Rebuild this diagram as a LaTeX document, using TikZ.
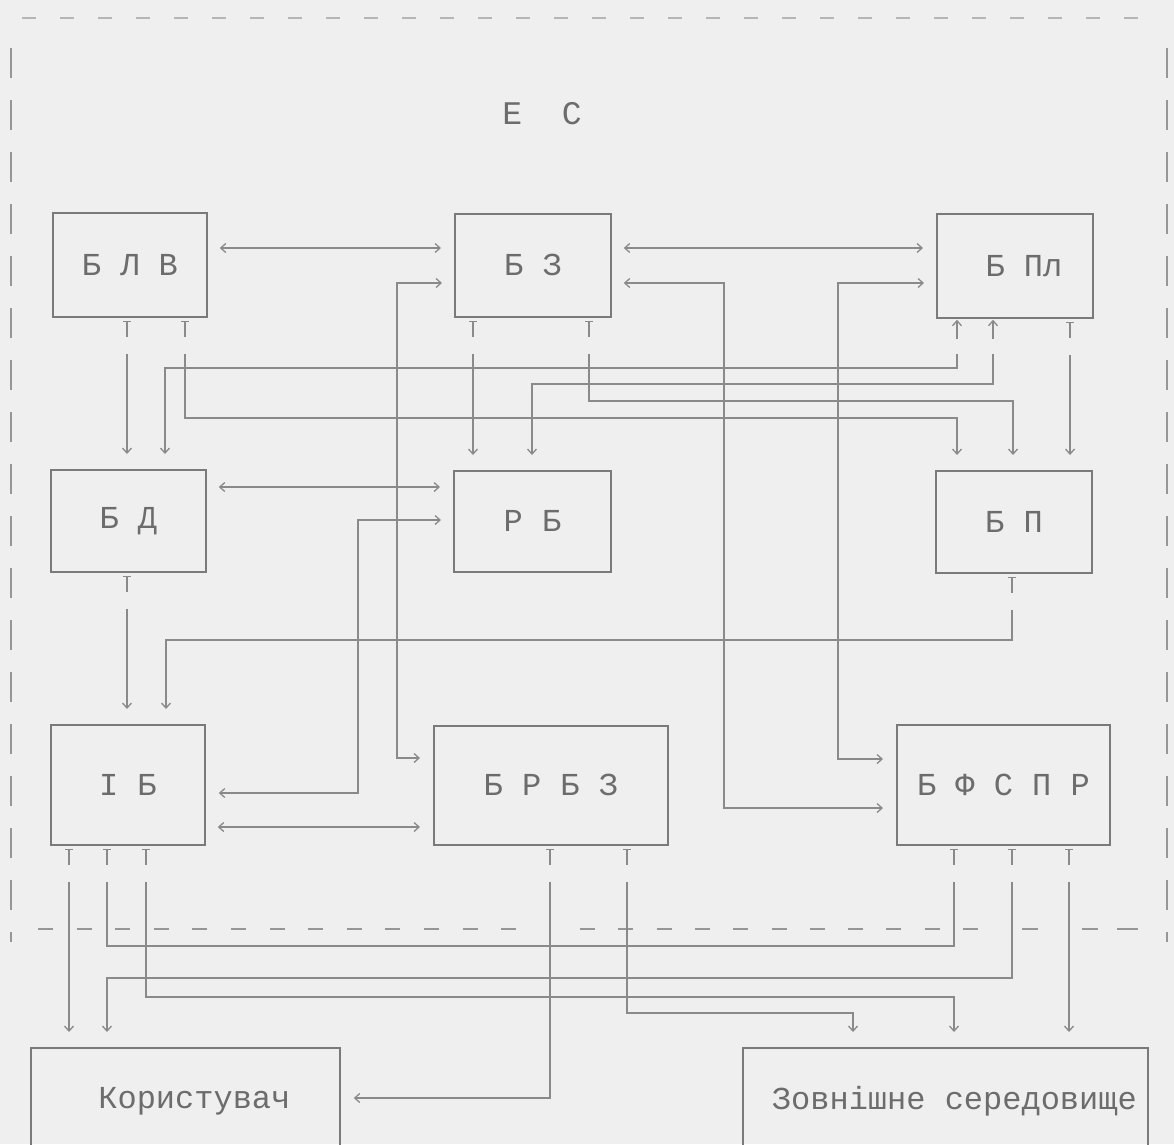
\documentclass[tikz,border=0pt]{standalone}
\usepackage{fontspec}
\setmainfont{Liberation Mono}
\usetikzlibrary{arrows.meta}
\definecolor{bgc}{RGB}{239,239,239}
\definecolor{lc}{RGB}{138,138,138}
\definecolor{bc}{RGB}{122,122,122}
\definecolor{tc}{RGB}{108,108,108}
\definecolor{dc}{RGB}{150,150,150}
\begin{document}
\begin{tikzpicture}[x=1pt,y=-1pt,
  >={Straight Barb[length=5pt,width=9pt]},
  box/.style={draw=bc, line width=1.8pt, inner sep=0pt, anchor=north west,
    font=\fontsize{32}{32}\selectfont, text=tc},
  lk/.style={draw=lc, line width=1.3pt},
  ar/.style={lk, ->, shorten >=15pt},
  ab/.style={lk, <->, shorten >=13pt, shorten <=12pt},
  fromT/.style={shorten <=36pt},
  intoB/.style={lk, <-, shorten <=15pt, shorten >=35pt},
  tmk/.pic={\draw[lk] (-4,4) -- (4,4) (0,4) -- (0,19);},
  upar/.pic={\draw[lk,->] (0,20) -- (0,1);},
  border/.style={draw=dc, line width=1.6pt}
]
\fill[bgc] (0,0) rectangle (1174,1144);
\useasboundingbox (0,0) rectangle (1174,1144);

% expert system frame
\draw[border, line width=1.2pt, draw=dc!70, dash pattern=on 14pt off 24pt] (22,18) -- (1152,18);
\draw[border, dash pattern=on 30pt off 22pt] (11,48) -- (11,942);
\draw[border, dash pattern=on 30pt off 22pt] (1167,48) -- (1167,942);

\node[font=\fontsize{33}{33}\selectfont, text=tc] (es) at (542,114) {Е\ \ С};

% blocks
\node[box, minimum width=154pt, minimum height=104pt] (blv) at (52,212) {Б Л В};
\node[box, minimum width=156pt, minimum height=103pt] (bz) at (454,213) {Б З};
\node[box, minimum width=156pt, minimum height=104pt] (bpl) at (936,213) {\hspace*{18pt}Б Пл};
\node[box, minimum width=155pt, minimum height=102pt] (bd) at (50,469) {Б Д};
\node[box, minimum width=157pt, minimum height=101pt] (rb) at (453,470) {Р Б};
\node[box, minimum width=156pt, minimum height=102pt] (bp) at (935,470) {Б П};
\node[box, minimum width=154pt, minimum height=120pt] (ib) at (50,724) {І Б};
\node[box, minimum width=234pt, minimum height=119pt] (brbz) at (433,725) {Б Р Б З};
\node[box, minimum width=213pt, minimum height=120pt] (bfspr) at (896,724) {Б Ф С П Р};
\node[box, minimum width=309pt, minimum height=106pt] (kor) at (30,1047) {\hspace*{18pt}Користувач};
\node[box, minimum width=405pt, minimum height=106pt] (zov) at (742,1047) {\hspace*{18pt}Зовнішне середовище};

% top row horizontal links
\draw[ab] (blv.east |- 0,248) -- (bz.west |- 0,248);
\draw[ab] (bz.east |- 0,248) -- (bpl.west |- 0,248);
\draw[ab] (bz.west |- 0,283) -| (397,758) -- (brbz.west |- 0,758);
\draw[ab] (bz.east |- 0,283) -| (724,808) -- (bfspr.west |- 0,808);
\draw[ab] (bpl.west |- 0,283) -| (838,759) -- (bfspr.west |- 0,759);

% from top row downward
\draw[ar,fromT] (127,0 |- blv.south) -- (127,0 |- bd.north);
\pic at (127,0 |- blv.south) {tmk};
\draw[ar,fromT] (185,0 |- blv.south) |- (957,418) -- (957,0 |- bp.north);
\pic at (185,0 |- blv.south) {tmk};
\draw[intoB] (165,0 |- bd.north) |- (957,368) -- (957,0 |- bpl.south);
\pic at (957,0 |- bpl.south) {upar};
\draw[intoB] (532,0 |- rb.north) |- (993,384) -- (993,0 |- bpl.south);
\pic at (993,0 |- bpl.south) {upar};
\draw[ar,fromT] (589,0 |- bz.south) |- (1013,401) -- (1013,0 |- bp.north);
\pic at (589,0 |- bz.south) {tmk};
\draw[ar,fromT] (473,0 |- bz.south) -- (473,0 |- rb.north);
\pic at (473,0 |- bz.south) {tmk};
\draw[ar,fromT] (1070,0 |- bpl.south) -- (1070,0 |- bp.north);
\pic at (1070,0 |- bpl.south) {tmk};

% middle row
\draw[ab] (bd.east |- 0,487) -- (rb.west |- 0,487);
\draw[ab] (rb.west |- 0,520) -| (358,793) -- (ib.east |- 0,793);
\draw[ar,fromT] (127,0 |- bd.south) -- (127,0 |- ib.north);
\pic at (127,0 |- bd.south) {tmk};
\draw[ar,fromT] (1012,0 |- bp.south) |- (166,640) -- (166,0 |- ib.north);
\pic at (1012,0 |- bp.south) {tmk};

% bottom row
\draw[ab] (ib.east |- 0,827) -- (brbz.west |- 0,827);

% separator of the expert system
\draw[border, line width=1.8pt, dash pattern=on 15pt off 23.6pt] (38,929) -- (517,929);
\draw[border, line width=1.8pt, dash pattern=on 15pt off 23.3pt] (580,929) -- (980,929);
\draw[border, line width=1.8pt] (1022,929) -- (1038,929) (1082,929) -- (1098,929) (1117,929) -- (1138,929);

% outputs
\draw[ar,fromT] (69,0 |- ib.south) -- (69,0 |- kor.north);
\pic at (69,0 |- ib.south) {tmk};
\draw[lk,fromT,shorten >=36pt] (107,0 |- ib.south) |- (954,946) -- (954,0 |- bfspr.south);
\pic at (107,0 |- ib.south) {tmk};
\pic at (954,0 |- bfspr.south) {tmk};
\draw[ar,fromT] (1012,0 |- bfspr.south) |- (107,978) -- (107,0 |- kor.north);
\pic at (1012,0 |- bfspr.south) {tmk};
\draw[ar,fromT] (146,0 |- ib.south) |- (954,997) -- (954,0 |- zov.north);
\pic at (146,0 |- ib.south) {tmk};
\draw[ar,fromT,shorten >=13pt] (550,0 |- brbz.south) |- (kor.east |- 0,1098);
\pic at (550,0 |- brbz.south) {tmk};
\draw[ar,fromT] (627,0 |- brbz.south) |- (853,1013) -- (853,0 |- zov.north);
\pic at (627,0 |- brbz.south) {tmk};
\draw[ar,fromT] (1069,0 |- bfspr.south) -- (1069,0 |- zov.north);
\pic at (1069,0 |- bfspr.south) {tmk};
\end{tikzpicture}
\end{document}
